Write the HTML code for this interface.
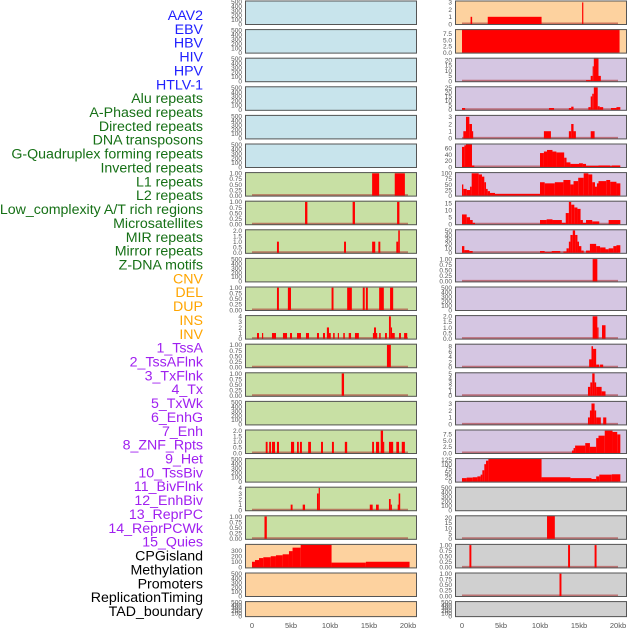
<!DOCTYPE html>
<html><head><meta charset="utf-8">
<style>
html,body{margin:0;padding:0;background:#fff;}
svg{display:block;}
</style></head>
<body>
<svg id="chart" width="630" height="630" xmlns="http://www.w3.org/2000/svg" font-family="'Liberation Sans', sans-serif"></svg>
<script>
// ---------- labels ----------
const trackLabels = ["AAV2","EBV","HBV","HIV","HPV","HTLV-1","Alu repeats","A-Phased repeats","Directed repeats","DNA transposons","G-Quadruplex forming repeats","Inverted repeats","L1 repeats","L2 repeats","Low_complexity A/T rich regions","Microsatellites","MIR repeats","Mirror repeats","Z-DNA motifs","CNV","DEL","DUP","INS","INV","1_TssA","2_TssAFlnk","3_TxFlnk","4_Tx","5_TxWk","6_EnhG","7_Enh","8_ZNF_Rpts","9_Het","10_TssBiv","11_BivFlnk","12_EnhBiv","13_ReprPC","14_ReprPCWk","15_Quies","CPGisland","Methylation","Promoters","ReplicationTiming","TAD_boundary"];
const labelGroups = [0,0,0,0,0,0,1,1,1,1,1,1,1,1,1,1,1,1,1,2,2,2,2,2,3,3,3,3,3,3,3,3,3,3,3,3,3,3,3,4,4,4,4,4];
const xTickValues = [0,5,10,15,20];
const xTickLabels = ["0","5kb","10kb","15kb","20kb"];

// ---------- tick sets ----------
const tk500 = ["0","100","200","300","400","500"];
const tk1 = ["0.00","0.25","0.50","0.75","1.00"];

// ---------- left column data (kb start, kb end, value) ----------
const L06_s=[15.4,18.3], L06_e=[16.3,19.6], L06_v=[1,1];
const L07_s=[6.8,12.9,18.6], L07_e=[7.1,13.2,18.9], L07_v=[1,1,1];
const L08_s=[3.2,11.8,15.4,16.2,18.5,18.75], L08_e=[3.45,12.05,15.8,16.45,18.75,18.95], L08_v=[1,1,1,1,1,2];
const L10_s=[3.2,4.6,10.2,12.2,14.2,14.6,16.3,17.7], L10_e=[3.45,5.0,10.45,12.8,14.45,14.85,16.9,18.1], L10_v=[1,1,1,1,1,1,1,1];
const L11_s=[0.64,1.28,2.56,3.97,4.87,5.77,6.92,8.33,9.1,9.6,9.87,10.4,11.0,11.7,12.4,13.2,15.5,15.64,15.9,16.3,17.05,17.56,17.8,17.95,18.85,19.5];
const L11_e=[0.9,1.41,3.08,4.49,5.13,6.28,7.31,8.59,9.36,9.87,10.1,10.6,11.15,11.9,12.7,13.7,15.64,15.9,16.0,16.5,17.3,17.8,17.95,18.3,19.1,19.9];
const L11_v=[1,1,1,1,1,1,1,1,1,2,1,1,1,1,1,1,1,2,1,1,1,4,2,1,1,1];
const L12_s=[17.3], L12_e=[17.8], L12_v=[1];
const L13_s=[11.5], L13_e=[11.8], L13_v=[1];
const L15_s=[1.76,2.2,2.56,3.2,5.0,5.77,6.15,7.2,8.85,10.25,11.9,15.4,15.9,16.5,16.8,17.56,18.5,19.2];
const L15_e=[2.0,2.44,2.95,3.46,5.4,6.0,6.4,7.56,9.1,10.5,12.2,15.64,16.3,16.8,16.9,18.1,18.85,19.6];
const L15_v=[1,1,1,1,1,1,1,1,1,1,1,1,1,2,1,1,1,1];
const L17_s=[4.96,6.5,8.33,8.55,15.1,15.9,17.56,17.78,18.68,18.8], L17_e=[5.2,6.8,8.55,8.68,15.47,16.25,17.78,17.9,18.8,19.0], L17_v=[1,1,3,4,1,1,2,1,1,3];
const L18_s=[1.6], L18_e=[1.9], L18_v=[1];
const L19_s=[0.0,0.38,0.9,1.45,2.4,3.07,3.93,4.74,5.2,6.24,10.2,14.6], L19_e=[0.38,0.9,1.45,2.4,3.07,3.93,4.74,5.2,6.24,10.2,14.6,20.2], L19_v=[100,130,165,180,198,215,232,288,350,400,85,100];

// ---------- right column data ----------
const R00_s=[1.1,3.3,15.4], R00_e=[1.3,10.2,15.55], R00_v=[1,1,3];
const R01_s=[0], R01_e=[20.2], R01_v=[10];
const R02_s=[15.9,16.5,16.75,16.9,17.5], R02_e=[16.5,16.75,16.9,17.5,17.8], R02_v=[1,5,14,22,5];
const R03_s=[0,11.15,13.7,14.0,16.2,16.5,16.7,16.9,17.4,17.65,19.1,19.8], R03_e=[0.4,11.8,14.0,14.3,16.5,16.7,16.9,17.4,17.65,18.1,19.8,20.3], R03_v=[2,2,2,3.5,3,15,18,25,4,3,2,3];
const R04_s=[0.17,0.51,0.94,1.28,10.5,13.7,14.0,14.3,16.5], R04_e=[0.51,0.94,1.28,1.37,11.4,14.0,14.3,14.6,17.0], R04_v=[1,3,2,1,1,1,2,1,1];
const R05_s=[0,0.3,0.51,1.28,10.0,10.5,10.9,11.6,12.1,13.1,13.4,13.9,15.0,15.5,15.9,17.5,19.0,19.2], R05_e=[0.3,0.51,1.28,1.58,10.5,10.9,11.6,12.1,13.1,13.4,13.9,15.0,15.5,15.9,17.5,19.0,19.2,20.3], R05_v=[65,70,75,5,45,50,55,50,47,30,15,10,12,10,4,5,3,5];
const R06_s=[0,0.17,0.6,1.03,1.24,2.14,2.56,2.86,3.08,3.29,3.59,4.23,10.0,10.6,11.9,13.0,13.9,14.3,14.9,15.6,16.2,16.7,17.05,17.3,17.5,18.5,19.0,19.8];
const R06_e=[0.17,0.6,1.03,1.24,2.14,2.56,2.86,3.08,3.29,3.59,4.23,10.0,10.6,11.9,13.0,13.9,14.3,14.9,15.6,16.2,16.7,17.05,17.3,17.5,18.5,19.0,19.8,20.3];
const R06_v=[50,30,25,40,100,95,85,60,30,20,12,8,60,55,60,70,50,65,80,100,95,60,40,55,65,70,62,55];
const R07_s=[0,0.6,1.03,1.37,10.0,10.85,11.6,12.8,13.3,13.7,14.0,14.4,14.8,15.2,15.5,15.9,16.7,18.8], R07_e=[0.6,1.03,1.37,1.67,10.85,11.6,12.8,13.3,13.7,14.0,14.4,14.8,15.2,15.5,15.9,16.7,17.6,20.3], R07_v=[7,5,3,1,3,3.5,3,1,8,16,14,12,11,3,1,3,2,3];
const R08_s=[0,0.3,0.94,10.0,10.6,11.5,13.0,13.4,13.7,13.9,14.2,14.5,14.8,15.0,15.3,15.9,16.4,16.6,17.2,17.7,18.4,18.8,19.4,19.8];
const R08_e=[0.3,0.94,1.37,10.6,11.5,12.6,13.4,13.7,13.9,14.2,14.5,14.8,15.0,15.3,15.6,16.4,16.6,17.2,17.7,18.4,18.8,19.4,19.8,20.3];
const R08_v=[15,6,4,4,2,4,3,10,25,40,50,40,25,15,5,5,20,20,15,12,8,10,15,17];
const R09_s=[16.75], R09_e=[17.35], R09_v=[1];
const R11_s=[16.75,17.35,17.95], R11_e=[17.35,17.5,18.4], R11_v=[2,1,1.2];
const R12_s=[16.3,16.6,16.8,17.2,17.7], R12_e=[16.6,16.8,17.2,17.6,18.1], R12_v=[3,8,7,1,1];
const R13_s=[16.15,16.45,16.7,17.0,17.2,17.9], R13_e=[16.45,16.7,17.0,17.2,17.9,18.4], R13_v=[2,3,5,3,2,1];
const R14_s=[16.15,16.4,16.6,17.0,17.2,18.1], R14_e=[16.4,16.6,17.0,17.2,17.8,18.5], R14_v=[1,2,3,2,1,1];
const R15_s=[14.1,14.3,14.5,15.8,16.4,17.2,17.5,18.3,19.3,19.9], R15_e=[14.3,14.5,15.8,16.4,17.2,17.5,18.3,19.3,19.9,20.3], R15_v=[1,2,3,4,2.5,6,7,9,8.5,7.5];
const R16_s=[0,0.6,1.37,1.97,2.39,2.61,2.86,3.08,3.38,10.2,13.9,16.6,17.2,17.6,19.2], R16_e=[0.6,1.37,1.97,2.39,2.61,2.86,3.08,3.38,10.2,13.9,16.6,17.2,17.6,19.2,20.3], R16_v=[20,23,25,30,40,65,100,120,130,25,20,15,30,40,42];
const R18_s=[10.9], R18_e=[11.9], R18_v=[22];
const R19_s=[0.95,13.6,17.0], R19_e=[1.2,13.85,17.25], R19_v=[1,1,1];
const R20_s=[12.5], R20_e=[12.75], R20_v=[1];

// ---------- panel configuration ----------
const BG = {blue:"#c8e4ec", green:"#c8e0a4", lav:"#d5c6e2", peach:"#fdd29f", gray:"#d0d0d0"};
const panels = [
 ["L",0,"blue",500,tk500,null],["L",1,"blue",500,tk500,null],["L",2,"blue",500,tk500,null],
 ["L",3,"blue",500,tk500,null],["L",4,"blue",500,tk500,null],["L",5,"blue",500,tk500,null],
 ["L",6,"green",1,tk1,[L06_s,L06_e,L06_v]],["L",7,"green",1,tk1,[L07_s,L07_e,L07_v]],
 ["L",8,"green",2,["0.0","0.5","1.0","1.5","2.0"],[L08_s,L08_e,L08_v]],["L",9,"green",500,tk500,null],
 ["L",10,"green",1,tk1,[L10_s,L10_e,L10_v]],["L",11,"green",4,["0","1","2","3","4"],[L11_s,L11_e,L11_v]],
 ["L",12,"green",1,tk1,[L12_s,L12_e,L12_v]],["L",13,"green",1,tk1,[L13_s,L13_e,L13_v]],
 ["L",14,"green",500,tk500,null],["L",15,"green",2,["0.0","0.5","1.0","1.5","2.0"],[L15_s,L15_e,L15_v]],
 ["L",16,"green",500,tk500,null],["L",17,"green",4,["0","1","2","3","4"],[L17_s,L17_e,L17_v]],
 ["L",18,"green",1,tk1,[L18_s,L18_e,L18_v]],["L",19,"peach",395,["0","100","200","300"],[L19_s,L19_e,L19_v]],
 ["L",20,"peach",500,tk500,null],["L",21,"peach",500,tk500,null],
 ["R",0,"peach",3.1,["0","1","2","3"],[R00_s,R00_e,R00_v]],["R",1,"peach",8.9,["0.0","2.5","5.0","7.5"],[R01_s,R01_e,R01_v]],
 ["R",2,"lav",21,["0","5","10","15","20"],[R02_s,R02_e,R02_v]],["R",3,"lav",25,["0","5","10","15","20","25"],[R03_s,R03_e,R03_v]],
 ["R",4,"lav",3.1,["0","1","2","3"],[R04_s,R04_e,R04_v]],["R",5,"lav",72,["0","20","40","60"],[R05_s,R05_e,R05_v]],
 ["R",6,"lav",100,["0","25","50","75","100"],[R06_s,R06_e,R06_v]],["R",7,"lav",16,["0","5","10","15"],[R07_s,R07_e,R07_v]],
 ["R",8,"lav",50,["0","10","20","30","40","50"],[R08_s,R08_e,R08_v]],["R",9,"lav",1,tk1,[R09_s,R09_e,R09_v]],
 ["R",10,"lav",500,tk500,null],["R",11,"lav",2,["0.0","0.5","1.0","1.5","2.0"],[R11_s,R11_e,R11_v]],
 ["R",12,"lav",8.5,["0","2","4","6","8"],[R12_s,R12_e,R12_v]],["R",13,"lav",5,["0","1","2","3","4","5"],[R13_s,R13_e,R13_v]],
 ["R",14,"lav",3.2,["0","1","2","3"],[R14_s,R14_e,R14_v]],["R",15,"lav",9,["0.0","2.5","5.0","7.5"],[R15_s,R15_e,R15_v]],
 ["R",16,"lav",128,["0","25","50","75","100","125"],[R16_s,R16_e,R16_v]],["R",17,"gray",500,tk500,null],
 ["R",18,"gray",21,["0","5","10","15","20"],[R18_s,R18_e,R18_v]],["R",19,"gray",1,tk1,[R19_s,R19_e,R19_v]],
 ["R",20,"gray",1,tk1,[R20_s,R20_e,R20_v]],["R",21,"gray",500,tk500,null]
];

const NS = "http://www.w3.org/2000/svg";
const svg = document.getElementById("chart");
function mk(tag, attrs, parent){
  const el = document.createElementNS(NS, tag);
  for (const k in attrs) el.setAttribute(k, attrs[k]);
  (parent||svg).appendChild(el);
  return el;
}
const COLS = {L:{x0:245,x1:417,z:252}, R:{x0:455,x1:627,z:462}};
const KB = 7.8;
function xScale(col, kb){ return COLS[col].z + kb*KB; }
function rowTop(r){ return 0.5 + 28.6*r; }
function rowH(r){ return r===21 ? 16 : 24.5; }

// labels
const labelColors = ["#2020ff","#167016","#ffa500","#a020f0","#000000"];
trackLabels.forEach((t,i)=>{
  const el = mk("text",{x:203,y:20+13.86*i,"text-anchor":"end","font-size":"14.2",fill:labelColors[labelGroups[i]]});
  el.textContent = t;
  
  
});

// panels
panels.forEach(p=>{
  const [col,row,bg,top,ticks,data] = p;
  const c = COLS[col], T = rowTop(row), H = rowH(row);
  const g = mk("g",{});
  
  
  const clipId = "clip"+col+row;
  const cp = mk("clipPath",{id:clipId},g);
  mk("rect",{x:c.x0,y:T,width:c.x1-c.x0,height:H},cp);
  const bgr = mk("rect",{x:c.x0,y:T,width:c.x1-c.x0,height:H,fill:BG[bg]},g);
  
  
  const y0 = T + H - 1, yTop = T + 1.2;
  const yS = v => y0 - v/top*(y0-yTop);
  ticks.forEach((lab)=>{
    const v = parseFloat(lab);
    const yy = yS(v);
    const tl = mk("text",{x:c.x0-3,y:yy+2.3,"text-anchor":"end","font-size":"6.5",fill:"#555"},g);
    tl.textContent = lab;
    
    
  });
  if (data){
    const [s,e,v] = data;
    const dg = mk("g",{"clip-path":"url(#"+clipId+")"},g);
    const bl = mk("line",{x1:xScale(col,0),x2:xScale(col,20),y1:y0-0.5,y2:y0-0.5,stroke:"rgba(170,40,40,0.55)","stroke-width":2},dg);
    
    
    for (let i=0;i<s.length;i++){
      const xa = xScale(col,s[i]), xb = xScale(col,e[i]);
      const yv = yS(v[i]);
      const b = mk("rect",{x:xa,y:yv,width:Math.max(xb-xa,1.2),height:y0-yv,fill:"#ff0000"},dg);
      
      
    }
  }
  const fr = mk("rect",{x:c.x0+0.5,y:T+0.5,width:c.x1-c.x0-1,height:H-1,fill:"none",stroke:"#555","stroke-width":1},g);
  
  
});

// x-axis tick labels
["L","R"].forEach(col=>{
  xTickValues.forEach((v,i)=>{
    const t = mk("text",{x:xScale(col,v),y:628,"text-anchor":"middle","font-size":"7.5",fill:"#555"});
    t.textContent = xTickLabels[i];
    
    
  });
});
</script>
</body></html>
